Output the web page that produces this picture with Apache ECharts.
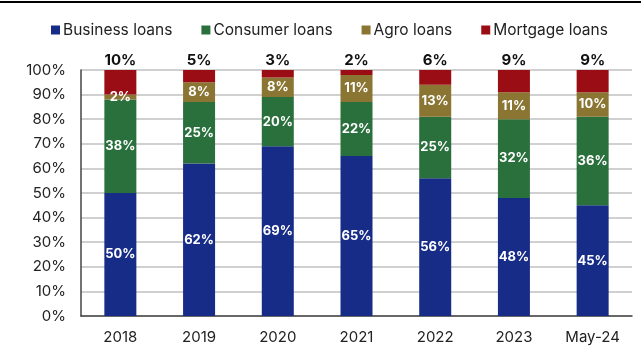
<!DOCTYPE html>
<html><head><meta charset="utf-8">
<script src="https://cdn.jsdelivr.net/npm/echarts@6/dist/echarts.min.js"></script>
<style>html,body{margin:0;padding:0;background:#fff}#c{width:643px;height:348px}</style>
</head><body><div id="c"></div>
<script>
const categories = ['2018','2019','2020','2021','2022','2023','May-24'];
const business = [50,62,69,65,56,48,45];
const consumer = [38,25,20,22,25,32,36];
const agro = [2,8,8,11,13,11,10];
const mortgage = [10,5,3,2,6,9,9];
const yTicks = [0,10,20,30,40,50,60,70,80,90,100];

const font = 'Inter, Roboto, sans-serif';
const inLabel = {show:true, position:'inside', color:'#fff', fontWeight:'bold', fontSize:13, fontFamily:font, formatter: p => p.value + '%'};
const chart = echarts.init(document.getElementById('c'), null, {renderer:'canvas'});
chart.setOption({
  animation:false,
  textStyle:{fontFamily:font},
  graphic:[{type:'line', shape:{x1:0,y1:2,x2:641,y2:2}, style:{stroke:'#000', lineWidth:2}}],
  legend:{top:17, left:46, itemWidth:9, itemHeight:9, itemGap:29, icon:'rect',
    textStyle:{fontSize:15.5, color:'#222', fontFamily:font, padding:[0,0,0,-2]},
    data:['Business loans','Consumer loans','Agro loans','Mortgage loans']},
  grid:{left:81, right:11, top:70, bottom:32},
  xAxis:{type:'category', data:categories,
    axisLine:{lineStyle:{color:'#444', width:1.5}}, axisTick:{show:false},
    axisLabel:{fontSize:15, color:'#222', margin:14, fontFamily:font}},
  yAxis:{type:'value', min:0, max:100, interval:10,
    axisLine:{show:true, lineStyle:{color:'#444', width:1.5}}, axisTick:{show:false},
    splitLine:{lineStyle:{color:'#d0d0d0', width:2}},
    axisLabel:{fontSize:15, color:'#222', margin:15, fontFamily:font, formatter: v => yTicks.includes(v) ? v + '%' : ''}},
  series:[
    {name:'Business loans', type:'bar', stack:'a', barWidth:32, data:business, itemStyle:{color:'#172c86'}, label:inLabel},
    {name:'Consumer loans', type:'bar', stack:'a', data:consumer, itemStyle:{color:'#2a703d'}, label:inLabel},
    {name:'Agro loans', type:'bar', stack:'a', data:agro, itemStyle:{color:'#8b7533'}, label:inLabel},
    {name:'Mortgage loans', type:'bar', stack:'a', data:mortgage, itemStyle:{color:'#9b0d14'},
      label:{show:true, position:'top', color:'#111', fontWeight:'bold', fontSize:15, fontFamily:font, distance:2, formatter: p => p.value + '%'}}
  ]
});
</script></body></html>
